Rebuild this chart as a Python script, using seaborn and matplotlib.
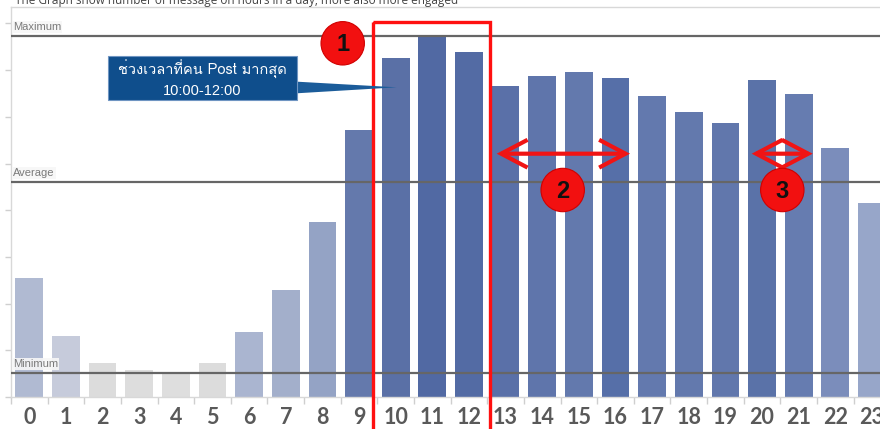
import numpy as np
import pandas as pd
import matplotlib
matplotlib.use("Agg")
import matplotlib.pyplot as plt
import matplotlib.transforms as mtransforms
from matplotlib import font_manager
from matplotlib.ft2font import FT2Font
from matplotlib.patches import Rectangle, Polygon, Circle, FancyArrowPatch
import seaborn as sns

# ---------------- data ----------------
hours = [str(h) for h in range(24)]
messages = [119, 61, 34, 27, 24, 34, 65, 107, 175, 267, 339, 361,
            345, 311, 321, 325, 319, 301, 285, 274, 317, 303, 249, 194]
bar_colors = ["#b0bad2", "#c6cbdb", "#dcdcdc", "#dddddd", "#dedede", "#dcdcdc",
              "#aab5d0", "#a3afcb", "#94a3c5", "#6479ac", "#5a70a6", "#5169a3",
              "#536ba4", "#5a70a8", "#5f75ab", "#6379ad", "#566fa8", "#6379ae",
              "#6379ad", "#6177ac", "#5a72a8", "#667cb0", "#7b8dbb", "#97a6c9"]
ref_labels = ["Maximum", "Average", "Minimum"]
title_text = "The Graph show number of message on hours in a day, more also more engaged"
callout_lines = ["ช่วงเวลาที่คน Post มากสุด", "10:00-12:00"]
marker_labels = ["1", "2", "3"]

# ---------------- fonts ----------------
def find_font(codepoint):
    seen = set()
    for f in font_manager.fontManager.ttflist:
        if f.fname in seen:
            continue
        seen.add(f.fname)
        try:
            if FT2Font(f.fname).get_char_index(codepoint):
                return f.name
        except Exception:
            pass
    return None

thai_font = find_font(0x0E0A)
callout_family = [thai_font, "DejaVu Sans"] if thai_font else ["DejaVu Sans"]

sns.set_theme(style="white")
plt.rcParams["font.family"] = ["Lato", "DejaVu Sans"]

W, H = 880, 429
fig = plt.figure(figsize=(W / 100, H / 100), dpi=100)
ax = fig.add_axes([11 / W, 1 - 397 / H, 1 - 11 / W, 390 / H])
ax.set_facecolor("white")

df = pd.DataFrame({"hour": hours, "messages": messages})
sns.barplot(data=df, x="hour", y="messages", hue="hour", palette=bar_colors,
            legend=False, width=0.756, saturation=1, edgecolor="none", ax=ax)

ax.set_xlabel("")
ax.set_ylabel("")

# reference lines
ref_values = [max(messages), float(np.mean(messages)), min(messages)]
for lab, val in zip(ref_labels, ref_values):
    ax.axhline(val, color="#666666", lw=1.6, zorder=3)
    ax.annotate(lab, xy=(-0.5, val), xytext=(1.5, 3), textcoords="offset points",
                fontsize=8, color="#7a7a7a", va="bottom", ha="left", zorder=4,
                family=["Liberation Sans Narrow", "Liberation Sans", "DejaVu Sans"],
                bbox=dict(boxstyle="square,pad=0.1", fc="#f7f7f7", ec="none", alpha=0.9))

# spines & ticks
for s in ["left", "top", "bottom"]:
    ax.spines[s].set_color("#d8d8d8")
    ax.spines[s].set_linewidth(1.0)
ax.spines["right"].set_visible(False)
ax.set_yticks(np.arange(0, 390, 46.7))
ax.set_yticklabels([])
ax.tick_params(axis="y", which="major", left=True, length=4, color="#cfcfcf", width=1)
ax.set_xticks(range(24))
ax.set_xticks(np.arange(-0.5, 24, 1), minor=True)
ax.tick_params(axis="x", which="major", length=0, pad=7, labelsize=15.5,
               labelcolor="#595959")
ax.tick_params(axis="x", which="minor", bottom=True, length=5, color="#cfcfcf", width=1)
for t in ax.get_xticklabels():
    t.set_fontweight("bold")

# limits last (setting ticks can widen the view)
ax.set_xlim(-0.5, 23.22)
ax.set_ylim(0, 390)

# ---------------- overlay annotations (pixel coords, y from top) ----------------
px = mtransforms.Affine2D().scale(1 / W, -1 / H).translate(0, 1) + fig.transFigure

fig.text(15 / W, 1 - 4 / H, title_text, fontsize=8.5, color="#444444",
         va="baseline", ha="left", family=["Open Sans", "DejaVu Sans"])

red = "#f01414"
fig.add_artist(Rectangle((373.3, 21.7), 116.7, 430, transform=px, fill=False,
                         ec="#ff1010", lw=2.4, zorder=5, clip_on=False))

# callout
fig.add_artist(Polygon([(285, 81), (285, 94), (396.7, 87.3)], closed=True,
                       transform=px, fc="#1b5c9a", ec="none", zorder=6))
fig.add_artist(Rectangle((107.7, 55.7), 189, 44.3, transform=px, fc="#0f4e8c",
                         ec="#6f95c2", lw=0.8, zorder=6))
fig.text(202 / W, 1 - 69 / H, callout_lines[0], color="white", fontsize=10.5,
         ha="center", va="center", family=callout_family, zorder=7)
fig.text(202 / W, 1 - 91 / H, callout_lines[1], color="white", fontsize=10.5,
         ha="center", va="center", family=["Liberation Sans", "DejaVu Sans"], zorder=7)

# double arrows
for x0, x1 in [(496.7, 630), (751.7, 812.7)]:
    fig.add_artist(FancyArrowPatch((x0, 153.7), (x1, 153.7), transform=px,
                                   arrowstyle="<->,head_length=0.95,head_width=0.5",
                                   mutation_scale=20, color=red, lw=3, zorder=6,
                                   shrinkA=0, shrinkB=0, joinstyle="miter",
                                   capstyle="butt"))

# numbered circles
for lab, (cx, cy) in zip(marker_labels, [(342.7, 43.3), (562.7, 190), (782.3, 190)]):
    fig.add_artist(Circle((cx, cy), 21.7, transform=px, fc="#f21010",
                          ec="#d00000", lw=0.8, zorder=7))
    fig.text(cx / W, 1 - (cy + 1) / H, lab, ha="center", va="center",
             fontsize=17, fontweight="bold", color="#111111", zorder=8,
             family=["Liberation Sans", "DejaVu Sans"])

fig.savefig("out.png", dpi=100)
